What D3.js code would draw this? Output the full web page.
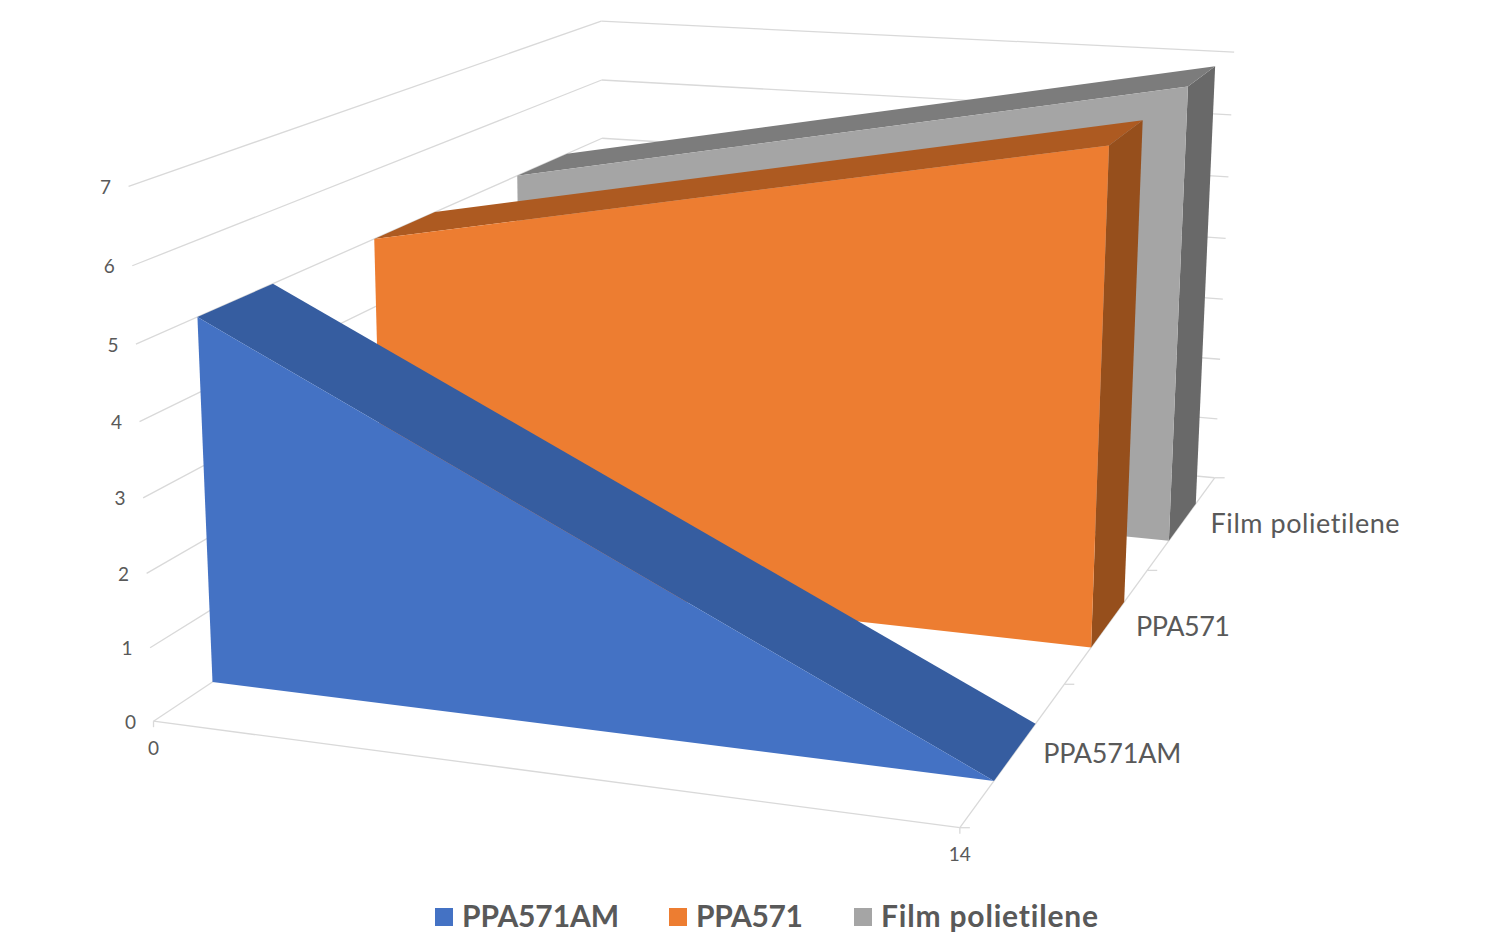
<!DOCTYPE html>
<html>
<head>
<meta charset="utf-8">
<script src="https://d3js.org/d3.v7.min.js"></script>
<style>
  html, body { margin: 0; background: #fff; }
  svg { display: block; }
  text { font-family: Lato, "Open Sans", sans-serif; fill: #595959; font-variant-ligatures: none; }
</style>
</head>
<body>
<svg id="chart" width="1500" height="946"></svg>
<script>
var seriesNames = ['PPA571AM', 'PPA571', 'Film polietilene'];
var xValues = [0, 14];
var ppa571am = [5, 0];
var ppa571 = [5, 7];
var film = [5, 7];
var yTicks = [0, 1, 2, 3, 4, 5, 6, 7];
var xTicks = [0, 14];

var faceColors = ['#4472c4', '#ed7d31', '#a5a5a5'];
var topColors = ['#365da0', '#ad5a21', '#7c7c7c'];
var sideColors = ['#365da0', '#964f1c', '#696969'];

var svg = d3.select('#chart');

var xScale = d3.scaleLinear().domain([0, 14]).range([0, 1]);
var yScale = d3.scaleLinear().domain([0, 7]).range([0, 1]);
var zScale = d3.scaleBand().domain(seriesNames).range([0, 1]).paddingInner(0.6).paddingOuter(0.3);

// where the box of the chart sits on the page: [x, y, z] => [px, py]
var anchors = [
  [0, 0, 0, 153, 721], [1, 0, 0, 959, 829], [1, 0, 1, 1214, 478], [0, 0, 1, 606, 422],
  [0, 1, 0, 130, 186], [0, 1, 1, 600, 21], [1, 1, 1, 1235, 53],
  [0, 5 / 7, 0, 136, 344], [0, 5 / 7, 1, 601, 138], [1, 4 / 7, 1, 1225, 238],
  [1, 1 / 7, 1, 1217, 418], [1, 6 / 7, 1, 1232, 115],
  [1, 0, 1 / 3, 1066, 683], [1, 0, 2 / 3, 1147, 571],
  [0, 0, 0.1, 212, 682], [1, 0, 0.1, 993, 781], [1, 0, 0.9, 1196, 503]
];

var solve = function(m, b) {
  var n = b.length;
  for (var i = 0; i < n; i++) {
    var best = i;
    for (var r = i + 1; r < n; r++) {
      if (Math.abs(m[r][i]) > Math.abs(m[best][i])) { best = r; }
    }
    var t = m[i]; m[i] = m[best]; m[best] = t;
    t = b[i]; b[i] = b[best]; b[best] = t;
    for (r = i + 1; r < n; r++) {
      var f = m[r][i] / m[i][i];
      for (var c = i; c < n; c++) { m[r][c] -= f * m[i][c]; }
      b[r] -= f * b[i];
    }
  }
  var out = [];
  for (i = n - 1; i >= 0; i--) {
    var sum = b[i];
    for (c = i + 1; c < n; c++) { sum -= m[i][c] * out[c]; }
    out[i] = sum / m[i][i];
  }
  return out;
};

// least squares fit of the perspective camera
var fitCamera = function() {
  var rows = [], rhs = [];
  anchors.forEach(function(a) {
    rows.push([a[0], a[1], a[2], 1, 0, 0, 0, 0, -a[3] * a[0], -a[3] * a[1], -a[3] * a[2]]);
    rhs.push(a[3]);
    rows.push([0, 0, 0, 0, a[0], a[1], a[2], 1, -a[4] * a[0], -a[4] * a[1], -a[4] * a[2]]);
    rhs.push(a[4]);
  });
  var ata = d3.range(11).map(function(i) {
    return d3.range(11).map(function(j) {
      return d3.sum(rows, function(r) { return r[i] * r[j]; });
    });
  });
  var atb = d3.range(11).map(function(i) {
    return d3.sum(rows, function(r, k) { return r[i] * rhs[k]; });
  });
  return solve(ata, atb);
};

var cam = fitCamera();

var project = function(u, v, w) {
  var d = cam[8] * u + cam[9] * v + cam[10] * w + 1;
  return [
    (cam[0] * u + cam[1] * v + cam[2] * w + cam[3]) / d,
    (cam[4] * u + cam[5] * v + cam[6] * w + cam[7]) / d
  ];
};

var poly = d3.line();

var drawLine = function(g, a, b, cssColor) {
  g.append('line')
    .attr('x1', a[0]).attr('y1', a[1])
    .attr('x2', b[0]).attr('y2', b[1])
    .attr('stroke', cssColor || '#d9d9d9')
    .attr('stroke-width', 1.3);
};

var renderGrid = function() {
  var g = svg.append('g').attr('class', 'grid');
  yTicks.forEach(function(t) {
    var v = yScale(t);
    drawLine(g, project(0, v, 0), project(0, v, 1));
    drawLine(g, project(0, v, 1), project(1, v, 1));
  });
  drawLine(g, project(0, 0, 0), project(1, 0, 0));
  drawLine(g, project(1, 0, 0), project(1, 0, 1));
  [0, 1 / 3, 2 / 3, 1].forEach(function(w) {
    var p = project(1, 0, w);
    drawLine(g, p, [p[0] + 10, p[1]]);
  });
  xTicks.forEach(function(t) {
    var p = project(xScale(t), 0, 0);
    drawLine(g, p, [p[0], p[1] + 6]);
  });
};

var renderRibbon = function(values, i) {
  var name = seriesNames[i];
  var front = zScale(name);
  var rear = front + zScale.bandwidth();
  var g = svg.append('g').attr('class', 'series');
  var last = xValues.length - 1;
  var uLast = xScale(xValues[last]);
  var vLast = yScale(values[last]);

  g.append('path')
    .attr('d', poly([
      project(uLast, 0, front), project(uLast, vLast, front),
      project(uLast, vLast, rear), project(uLast, 0, rear)
    ]) + 'Z')
    .attr('fill', sideColors[i]);

  d3.range(last).forEach(function(k) {
    var u0 = xScale(xValues[k]), u1 = xScale(xValues[k + 1]);
    var v0 = yScale(values[k]), v1 = yScale(values[k + 1]);
    g.append('path')
      .attr('d', poly([
        project(u0, v0, front), project(u0, v0, rear),
        project(u1, v1, rear), project(u1, v1, front)
      ]) + 'Z')
      .attr('fill', topColors[i]);
  });

  var outline = xValues.map(function(x, k) {
    return project(xScale(x), yScale(values[k]), front);
  });
  outline.push(project(uLast, 0, front));
  outline.push(project(xScale(xValues[0]), 0, front));
  g.append('path').attr('d', poly(outline) + 'Z').attr('fill', faceColors[i]);
};

var renderLabels = function() {
  var g = svg.append('g').attr('class', 'labels');
  var zWidths = [138, 94, 189];

  g.selectAll('.y-label').data(yTicks).enter().append('text')
    .attr('class', 'y-label')
    .attr('x', function(t) { return project(0, yScale(t), 0)[0] - 23; })
    .attr('y', function(t) { return project(0, yScale(t), 0)[1]; })
    .attr('text-anchor', 'middle')
    .attr('dominant-baseline', 'central')
    .style('font-size', '19px')
    .text(function(t) { return t; });

  g.selectAll('.x-label').data(xTicks).enter().append('text')
    .attr('class', 'x-label')
    .attr('x', function(t) { return project(xScale(t), 0, 0)[0]; })
    .attr('y', function(t) { return project(xScale(t), 0, 0)[1] + 26; })
    .attr('text-anchor', 'middle')
    .attr('dominant-baseline', 'central')
    .style('font-size', '19px')
    .text(function(t) { return t; });

  g.selectAll('.z-label').data(seriesNames).enter().append('text')
    .attr('class', 'z-label')
    .attr('x', function(d) { return project(1, 0, zScale(d) + zScale.bandwidth() / 2)[0] + 28; })
    .attr('y', function(d) { return project(1, 0, zScale(d) + zScale.bandwidth() / 2)[1] + 1; })
    .attr('dominant-baseline', 'central')
    .attr('textLength', function(d, i) { return zWidths[i]; })
    .style('font-size', '27px')
    .text(function(d) { return d; });
};

var renderLegend = function() {
  var swatchX = [435, 669, 854];
  var textWidths = [157, 107, 217];
  var legend = svg.append('g').attr('class', 'legend');
  seriesNames.forEach(function(name, i) {
    legend.append('rect')
      .attr('x', swatchX[i]).attr('y', 908)
      .attr('width', 18).attr('height', 18)
      .attr('fill', faceColors[i]);
    legend.append('text')
      .attr('x', swatchX[i] + 27).attr('y', 927)
      .attr('textLength', textWidths[i])
      .style('font-size', '30px')
      .style('font-weight', 700)
      .text(name);
  });
};

renderGrid();
[film, ppa571, ppa571am].forEach(function(values, k) { renderRibbon(values, 2 - k); });
renderLabels();
renderLegend();
</script>
</body>
</html>
